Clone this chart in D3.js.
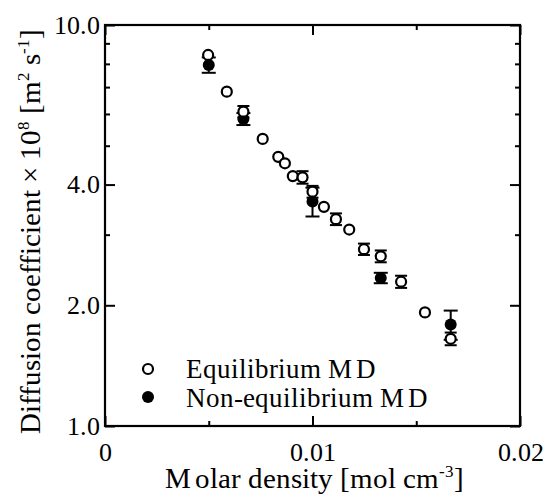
<!DOCTYPE html>
<html>
<head>
<meta charset="utf-8">
<script src="https://cdn.jsdelivr.net/npm/d3@7"></script>
<style>
@font-face { font-family: "PlotSerif"; src: local("Liberation Serif"), local("LiberationSerif"), local("LiberationSerif-Regular"); }
</style>
</head>
<body style="margin:0">
<svg id="chart" width="548" height="495"></svg>
<script>

// equilibrium MD (open circles)
var eqX   = [0.00497, 0.00587, 0.00667, 0.0076, 0.00835, 0.00867, 0.00905, 0.00952, 0.0100, 0.01055, 0.01113, 0.01177, 0.01248, 0.01329, 0.01427, 0.01542, 0.01666];
var eqY   = [8.42, 6.82, 6.08, 5.20, 4.69, 4.52, 4.20, 4.17, 3.84, 3.52, 3.28, 3.09, 2.76, 2.65, 2.29, 1.92, 1.65];
var eqErr = [0, 0, 0.2, 0, 0, 0, 0, 0.15, 0.13, 0, 0.11, 0, 0.09, 0.09, 0.08, 0, 0.06];

// non-equilibrium MD (filled circles)
var neqX   = [0.005, 0.00667, 0.0100, 0.01329, 0.01666];
var neqY   = [7.95, 5.83, 3.63, 2.34, 1.79];
var neqErr = [0.35, 0.2, 0.3, 0.07, 0.15];

var xMajor = [0, 0.01, 0.02];
var xMinor = [0.005, 0.015];
var yMajor = [1, 2, 4, 10];
var yMinor = [3, 5, 6, 7, 8, 9];

var legendNames = ["Equilibrium", "Non-equilibrium"];

var FONT = "PlotSerif, Liberation Serif, Times New Roman, serif";
var TIMES = String.fromCharCode(215);

var svg = d3.select("#chart");
var pLeft = 105, pRight = 520, pTop = 25, pBottom = 426;

var x = d3.scaleLinear().domain([0, 0.02]).range([pLeft, pRight]);
var y = d3.scaleLog().domain([1, 10]).range([pBottom, pTop]);

function fmtX(d){
    return d == 0 ? "0" : d3.format(".2")(d);
}

function drawAxes(){
    var g = svg.append("g");

    // bottom / top
    g.append("g").attr("transform", "translate(0," + pBottom + ")")
        .call(d3.axisBottom(x).tickValues(xMajor).tickSize(-10).tickPadding(17).tickFormat(fmtX));
    g.append("g").attr("transform", "translate(0," + pBottom + ")")
        .call(d3.axisBottom(x).tickValues(xMinor).tickSize(-5).tickFormat(""));
    g.append("g").attr("transform", "translate(0," + pTop + ")")
        .call(d3.axisTop(x).tickValues(xMajor).tickSize(-10).tickFormat(""));
    g.append("g").attr("transform", "translate(0," + pTop + ")")
        .call(d3.axisTop(x).tickValues(xMinor).tickSize(-5).tickFormat(""));

    // left / right
    g.append("g").attr("transform", "translate(" + pLeft + ",0)")
        .call(d3.axisLeft(y).tickValues(yMajor).tickSize(-10).tickPadding(5).tickFormat(d3.format(".1f")));
    g.append("g").attr("transform", "translate(" + pLeft + ",0)")
        .call(d3.axisLeft(y).tickValues(yMinor).tickSize(-5).tickFormat(""));
    g.append("g").attr("transform", "translate(" + pRight + ",0)")
        .call(d3.axisRight(y).tickValues(yMajor).tickSize(-10).tickFormat(""));
    g.append("g").attr("transform", "translate(" + pRight + ",0)")
        .call(d3.axisRight(y).tickValues(yMinor).tickSize(-5).tickFormat(""));

    g.selectAll(".domain").remove();
    g.selectAll("g").attr("font-family", FONT).attr("font-size", 26);
    g.selectAll(".tick line").attr("stroke", "#000").attr("stroke-width", 2);
    g.selectAll(".tick text").attr("fill", "#000").attr("font-family", FONT);

    svg.append("rect")
        .attr("x", pLeft).attr("y", pTop)
        .attr("width", pRight - pLeft).attr("height", pBottom - pTop)
        .attr("fill", "none").attr("stroke", "#000").attr("stroke-width", 2.2);
}

function drawErrors(xs, ys, errs, capW){
    var g = svg.append("g").attr("stroke", "#000").attr("stroke-width", 2);
    xs.forEach(function(xv, i){
        var e = errs[i];
        if (!e) return;
        var cx = x(xv), y1 = y(ys[i] + e), y2 = y(ys[i] - e);
        g.append("line").attr("x1", cx).attr("x2", cx).attr("y1", y1).attr("y2", y2);
        g.append("line").attr("x1", cx - capW/2).attr("x2", cx + capW/2).attr("y1", y1).attr("y2", y1);
        g.append("line").attr("x1", cx - capW/2).attr("x2", cx + capW/2).attr("y1", y2).attr("y2", y2);
    });
}

drawAxes();

drawErrors(neqX, neqY, neqErr, 14);
drawErrors(eqX, eqY, eqErr, 12);

svg.append("g").selectAll("circle")
    .data(neqX)
    .join("circle")
    .attr("cx", function(d){ return x(d); })
    .attr("cy", function(d, i){ return y(neqY[i]); })
    .attr("r", 6)
    .attr("fill", "#000");

svg.append("g").selectAll("circle")
    .data(eqX)
    .join("circle")
    .attr("cx", function(d){ return x(d); })
    .attr("cy", function(d, i){ return y(eqY[i]); })
    .attr("r", 5)
    .attr("fill", "#fff")
    .attr("stroke", "#000")
    .attr("stroke-width", 2.2);

// legend
var leg = svg.append("g");
leg.append("circle").attr("cx", 148).attr("cy", 369).attr("r", 5)
    .attr("fill", "#fff").attr("stroke", "#000").attr("stroke-width", 2.2);
leg.append("circle").attr("cx", 148).attr("cy", 397).attr("r", 6).attr("fill", "#000");
var lt = leg.selectAll("text")
    .data(legendNames)
    .join("text")
    .attr("x", 186)
    .attr("y", function(d, i){ return 378 + i * 29; })
    .attr("font-family", FONT)
    .attr("font-size", 27);
lt.append("tspan").text(function(d){ return d + " M"; });
lt.append("tspan").attr("dx", 4).text("D");

// axis titles
var xt = svg.append("text")
    .attr("x", (pLeft + pRight) / 2 + 2)
    .attr("y", 488)
    .attr("text-anchor", "middle")
    .attr("font-family", FONT)
    .attr("font-size", 29);
xt.append("tspan").text("M");
xt.append("tspan").attr("dx", 4).text("olar density  [mol cm");
xt.append("tspan").attr("dy", -11).attr("font-size", 17).text("-3");
xt.append("tspan").attr("dy", 11).text("]");

var yt = svg.append("text")
    .attr("transform", "translate(40," + ((pTop + pBottom) / 2 + 6) + ") rotate(-90)")
    .attr("text-anchor", "middle")
    .attr("font-family", FONT)
    .attr("font-size", 29);
yt.append("tspan").text("Diffusion coefficient " + TIMES + " 10");
yt.append("tspan").attr("dy", -11).attr("font-size", 17).text("8");
yt.append("tspan").attr("dy", 11).text(" [m");
yt.append("tspan").attr("dy", -11).attr("font-size", 17).text("2");
yt.append("tspan").attr("dy", 11).text(" s");
yt.append("tspan").attr("dy", -11).attr("font-size", 17).text("-1");
yt.append("tspan").attr("dy", 11).text("]");

</script>
</body>
</html>
